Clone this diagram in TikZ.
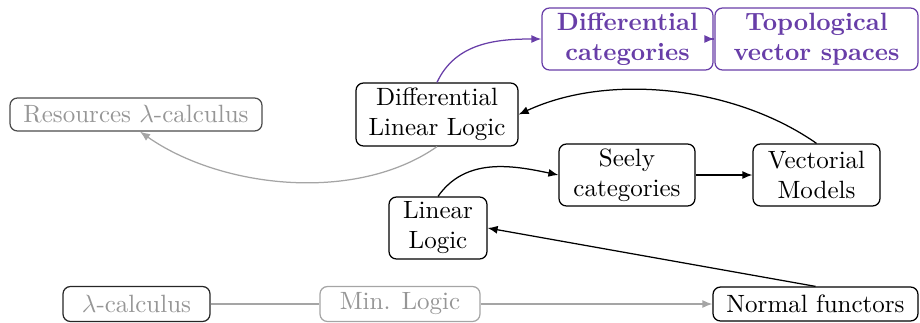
\documentclass[tikz,border=0pt]{standalone}
\usetikzlibrary{arrows.meta}
\definecolor{dpurple}{RGB}{104,62,168}
\definecolor{lgrey}{RGB}{150,150,150}
\definecolor{lgreyline}{RGB}{165,165,165}
\tikzset{
  box/.style={draw, rounded corners=3pt, align=center, inner sep=0pt, line width=0.5pt},
  pbox/.style={box, draw=dpurple, text=dpurple, font=\bfseries},
  gbox/.style={box, text=lgrey},
  arr/.style={-{Latex[length=4pt,width=3.2pt]}, line width=0.5pt},
}
\begin{document}
\begin{tikzpicture}[x=0.4pt,y=-0.4pt]
\useasboundingbox (0,0) rectangle (920,322);
\begin{scope}
\clip (0,0) rectangle (920,322);
\node[gbox, draw=black!70, minimum width=252*0.4pt, minimum height=33*0.4pt] (res) at (136,114.5) {Resources $\lambda$-calculus};
\node[box, minimum width=162*0.4pt, minimum height=63*0.4pt] (dll) at (437,114.5) {Differential\\Linear Logic};
\node[pbox, minimum width=171*0.4pt, minimum height=62*0.4pt] (dc) at (627.5,39) {Differential\\categories};
\node[pbox, minimum width=203*0.4pt, minimum height=62*0.4pt] (tvs) at (816.5,39) {Topological\\vector spaces};
\node[box, minimum width=136*0.4pt, minimum height=62*0.4pt] (seely) at (627,175) {Seely\\categories};
\node[box, minimum width=127*0.4pt, minimum height=62*0.4pt] (vect) at (816.5,175) {Vectorial\\Models};
\node[box, minimum width=98*0.4pt, minimum height=62*0.4pt] (ll) at (438,228) {Linear\\Logic};
\node[gbox, draw=black!85, minimum width=147*0.4pt, minimum height=35*0.4pt] (lam) at (136.5,304) {$\lambda$-calculus};
\node[gbox, draw=lgreyline, minimum width=160*0.4pt, minimum height=35*0.4pt] (min) at (400,304) {Min. Logic};
\node[box, minimum width=205*0.4pt, minimum height=34*0.4pt] (nf) at (815.5,304) {Normal functors};

\draw[arr, dpurple] (dll.north) to[out=65,in=180] (dc.west);
\draw[arr, dpurple] (dc.east) -- (tvs.west);
\draw[arr] (vect.north) to[out=145,in=25,looseness=0.85] (dll.east);
\draw[arr, lgreyline] (dll.south) to[out=-145,in=-35,looseness=0.85] ([xshift=4*0.4pt]res.south);
\draw[arr] (ll.north) to[out=55,in=168] (seely.west);
\draw[arr] (seely.east) -- (vect.west);
\draw[arr] (nf.north) -- (ll.east);
\draw[lgreyline, line width=0.5pt] (lam.east) -- (min.west);
\draw[arr, lgreyline] (min.east) -- (nf.west);
\end{scope}
\end{tikzpicture}
\end{document}
